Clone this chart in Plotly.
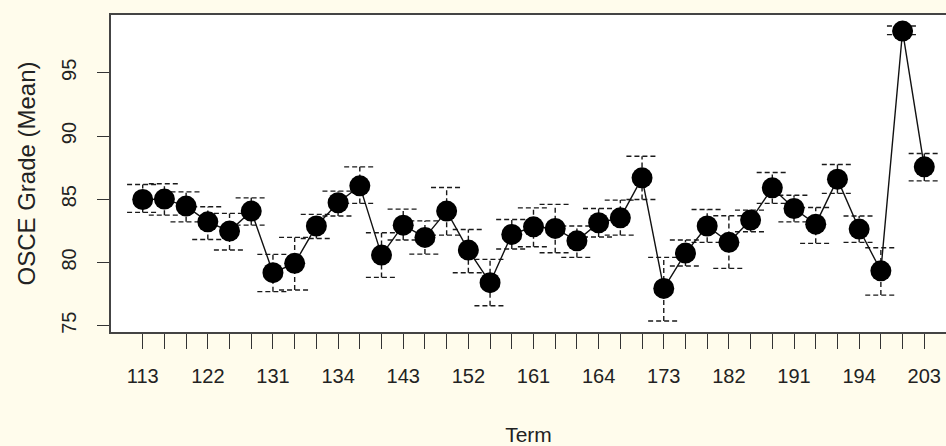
import plotly.graph_objects as go

# ---- data ----
term_index = list(range(1, 38))
tick_labels = ["113", "122", "131", "134", "143", "152", "161",
               "164", "173", "182", "191", "194", "203"]
mean_grade = [84.98, 85.01, 84.46, 83.21, 82.48, 84.06, 79.19, 79.93, 82.88, 84.72,
              86.06, 80.58, 82.95, 81.98, 84.06, 80.98, 78.40, 82.22, 82.82, 82.69,
              81.71, 83.14, 83.53, 86.69, 77.95, 80.74, 82.88, 81.59, 83.35, 85.90,
              84.27, 83.03, 86.59, 82.64, 79.34, 98.30, 87.56]
ci_upper = [86.17, 86.22, 85.58, 84.40, 83.88, 85.11, 80.64, 81.98, 83.80, 85.64,
            87.56, 82.35, 84.22, 83.29, 85.93, 82.61, 80.24, 83.40, 84.32, 84.59,
            82.88, 84.27, 84.93, 88.40, 80.40, 81.77, 84.19, 83.69, 84.14, 87.12,
            85.32, 84.35, 87.75, 83.67, 81.16, 98.70, 88.62]
ci_lower = [83.96, 83.74, 83.21, 81.82, 80.98, 82.95, 77.69, 77.82, 81.90, 83.67,
            84.67, 78.82, 81.77, 80.66, 82.16, 79.19, 76.58, 81.06, 81.24, 80.77,
            80.40, 82.01, 82.16, 84.98, 75.37, 79.72, 81.59, 79.53, 82.43, 84.67,
            83.21, 81.51, 85.46, 81.59, 77.42, 98.02, 86.45]

# ---- build error-bar segments (dashed) from the arrays ----
cap = 0.72
ex, ey = [], []
for x, lo, hi in zip(term_index, ci_lower, ci_upper):
    ex += [x, x, None, x - cap, x + cap, None, x - cap, x + cap, None]
    ey += [lo, hi, None, hi, hi, None, lo, lo, None]

label_pos = term_index[::3]
ticktext = []
for x in term_index:
    ticktext.append(tick_labels[label_pos.index(x)] if x in label_pos else "")

FONT = "Liberation Sans, Arial, Helvetica, sans-serif"
BG = "#fffcec"

fig = go.Figure()
fig.add_trace(go.Scatter(x=ex, y=ey, mode="lines",
                         line=dict(color="#1a1a1a", width=1.4, dash="5px,3px"),
                         hoverinfo="skip", showlegend=False))
fig.add_trace(go.Scatter(x=term_index, y=mean_grade, mode="lines",
                         line=dict(color="#111111", width=1.4),
                         showlegend=False))
fig.add_trace(go.Scatter(x=term_index, y=mean_grade, mode="markers",
                         marker=dict(color="black", size=21, symbol="circle"),
                         showlegend=False))

fig.update_layout(
    width=946, height=446,
    margin=dict(l=111, r=0, t=15, b=114, autoexpand=False),
    paper_bgcolor=BG,
    plot_bgcolor="white",
    font=dict(family=FONT, size=20, color="#222222"),
    xaxis=dict(
        range=[-0.46, 38.0], automargin=False,
        tickmode="array", tickvals=term_index, ticktext=ticktext,
        tickfont=dict(family=FONT, size=20),
        ticks="outside", ticklen=15, tickwidth=1.2, tickcolor="#333333",
        showline=True, mirror=True, linecolor="#444444", linewidth=1.6,
        showgrid=False, zeroline=False,
        title=dict(text="Term", font=dict(family=FONT, size=21), standoff=48),
        ticklabelstandoff=10,
    ),
    yaxis=dict(
        range=[74.5, 99.57], automargin=False,
        tickmode="array", tickvals=[75, 80, 85, 90, 95],
        tickangle=-90,
        tickfont=dict(family=FONT, size=20),
        ticks="outside", ticklen=12, tickwidth=1.2, tickcolor="#333333",
        showline=True, mirror=False, linecolor="#444444", linewidth=1.6,
        showgrid=False, zeroline=False,
        title=dict(text="OSCE Grade (Mean)", font=dict(family=FONT, size=24), standoff=16),
        ticklabelstandoff=13,
    ),
)

fig.write_html(
    "out.html",
    config={"displayModeBar": False},
    post_script="document.body.style.margin='0';document.body.style.background='%s';" % BG,
)
